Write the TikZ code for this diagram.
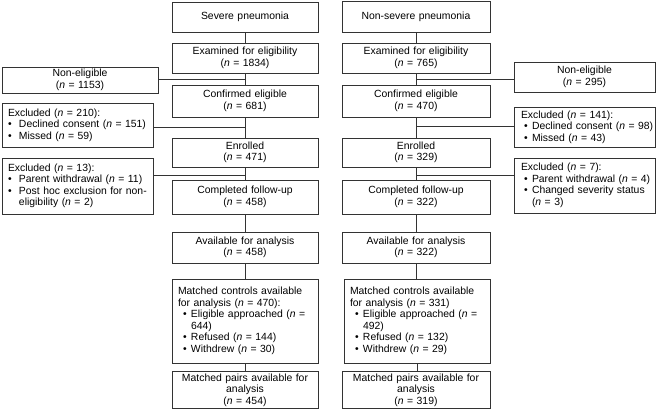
\documentclass[tikz,border=0pt]{standalone}
\usepackage{fontspec}
\setmainfont{Liberation Sans}
\newcommand{\nn}{\textit{n}}
\newcommand{\bitem}[3]{\mbox{\hspace*{#1}\makebox[#2][l]{\textbullet}#3}}
\begin{document}
\begin{tikzpicture}[x=1pt,y=-1pt,
  font=\fontsize{10.4}{11.5}\selectfont,
  box/.style={draw=black!80, line width=0.8pt, inner xsep=6pt, inner ysep=2pt, align=center, text width=#1-12pt, minimum width=#1},
  lbox/.style={draw=black!80, line width=0.8pt, inner xsep=4pt, inner ysep=2pt, align=left, text width=#1-8pt, minimum width=#1},
  conn/.style={draw=black!80, line width=0.8pt}]
\useasboundingbox (0,0) rectangle (657,417);
% left column
\node[box=146pt, minimum height=30pt] (sev) at (245,17) {Severe pneumonia};
\node[box=146pt, minimum height=30pt] (ex1) at (245,58) {Examined for eligibility\\(\nn{} = 1834)};
\node[box=146pt, minimum height=32pt] (cf1) at (245,101) {Confirmed eligible\\(\nn{} = 681)};
\node[box=146pt, minimum height=29pt] (en1) at (245,152.5) {Enrolled\\(\nn{} = 471)};
\node[box=146pt, minimum height=34pt] (cp1) at (245,197) {Completed follow-up\\(\nn{} = 458)};
\node[box=146pt, minimum height=31pt] (av1) at (245,247.5) {Available for analysis\\(\nn{} = 458)};
\node[lbox=146pt, minimum height=84pt] (mc1) at (245,321) {\mbox{\hspace*{2pt}Matched controls available}\\\mbox{\hspace*{2pt}for analysis (\nn{} = 470):}\\
\bitem{7pt}{8pt}{Eligible approached (\nn{} =}\\\mbox{\hspace*{15pt}644)}\\
\bitem{7pt}{8pt}{Refused (\nn{} = 144)}\\
\bitem{7pt}{8pt}{Withdrew (\nn{} = 30)}};
\node[box=146pt, minimum height=36pt] (mp1) at (245,390) {Matched pairs available for\\analysis\\(\nn{} = 454)};
% left side
\node[box=156pt, minimum height=26pt] (ne1) at (80,80) {Non-eligible\\(\nn{} = 1153)};
\node[lbox=151pt, minimum height=44pt] (x210) at (77.5,125) {\mbox{\hspace*{2pt}Excluded (\nn{} = 210):}\\
\bitem{2pt}{11pt}{Declined consent (\nn{} = 151)}\\
\bitem{2pt}{11pt}{Missed (\nn{} = 59)}};
\node[lbox=151pt, minimum height=56pt] (x13) at (77.5,186) {\mbox{\hspace*{2pt}Excluded (\nn{} = 13):}\\
\bitem{2pt}{11pt}{Parent withdrawal (\nn{} = 11)}\\
\bitem{2pt}{11pt}{Post hoc exclusion for non-}\\\mbox{\hspace*{13pt}eligibility (\nn{} = 2)}};
% right column
\node[box=148pt, minimum height=31pt] (nsev) at (416,16.5) {Non-severe pneumonia};
\node[box=148pt, minimum height=30pt] (ex2) at (416,58) {Examined for eligibility\\(\nn{} = 765)};
\node[box=148pt, minimum height=32pt] (cf2) at (416,101) {Confirmed eligible\\(\nn{} = 470)};
\node[box=148pt, minimum height=29pt] (en2) at (416,152.5) {Enrolled\\(\nn{} = 329)};
\node[box=148pt, minimum height=34pt] (cp2) at (416,197) {Completed follow-up\\(\nn{} = 322)};
\node[box=148pt, minimum height=31pt] (av2) at (416,247.5) {Available for analysis\\(\nn{} = 322)};
\node[lbox=146pt, minimum height=84pt] (mc2) at (417,321) {\mbox{\hspace*{2pt}Matched controls available}\\\mbox{\hspace*{2pt}for analysis (\nn{} = 331)}\\
\bitem{7pt}{8pt}{Eligible approached (\nn{} =}\\\mbox{\hspace*{15pt}492)}\\
\bitem{7pt}{8pt}{Refused (\nn{} = 132)}\\
\bitem{7pt}{8pt}{Withdrew (\nn{} = 29)}};
\node[box=148pt, minimum height=36pt] (mp2) at (416,390) {Matched pairs available for\\analysis\\(\nn{} = 319)};
% right side
\node[box=141pt, minimum height=30pt] (ne2) at (584.5,77) {Non-eligible\\(\nn{} = 295)};
\node[lbox=141pt, minimum height=40pt] (x141) at (584.5,127) {\mbox{\hspace*{3pt}Excluded (\nn{} = 141):}\\
\bitem{6pt}{8pt}{Declined consent (\nn{} = 98)}\\
\bitem{6pt}{8pt}{Missed (\nn{} = 43)}};
\node[lbox=141pt, minimum height=55pt] (x7) at (584.5,185.5) {\mbox{\hspace*{3pt}Excluded (\nn{} = 7):}\\
\bitem{6pt}{8pt}{Parent withdrawal (\nn{} = 4)}\\
\bitem{6pt}{8pt}{Changed severity status}\\\mbox{\hspace*{14pt}(\nn{} = 3)}};
% vertical connectors
\foreach \a/\b in {sev/ex1,ex1/cf1,cf1/en1,en1/cp1,cp1/av1,av1/mc1,mc1/mp1,nsev/ex2,ex2/cf2,cf2/en2,en2/cp2,cp2/av2,av2/mc2,mc2/mp2}
  \path[conn] (\a.south) -- (\a.south |- \b.north);
% side connectors
\path[conn] ([yshift=1pt]ne1.east) -- ([yshift=1pt]ne1.east -| ex1.south);
\path[conn] ([yshift=-2pt]x210.east) -- ([yshift=-2pt]x210.east -| cf1.south);
\path[conn] ([yshift=11pt]x13.east) -- ([yshift=11pt]x13.east -| en1.south);
\path[conn] ([yshift=-2pt]ne2.west) -- ([yshift=-2pt]ne2.west -| ex2.south);
\path[conn] ([yshift=1pt]x141.west) -- ([yshift=1pt]x141.west -| cf2.south);
\path[conn] ([yshift=10.5pt]x7.west) -- ([yshift=10.5pt]x7.west -| en2.south);
\end{tikzpicture}
\end{document}
